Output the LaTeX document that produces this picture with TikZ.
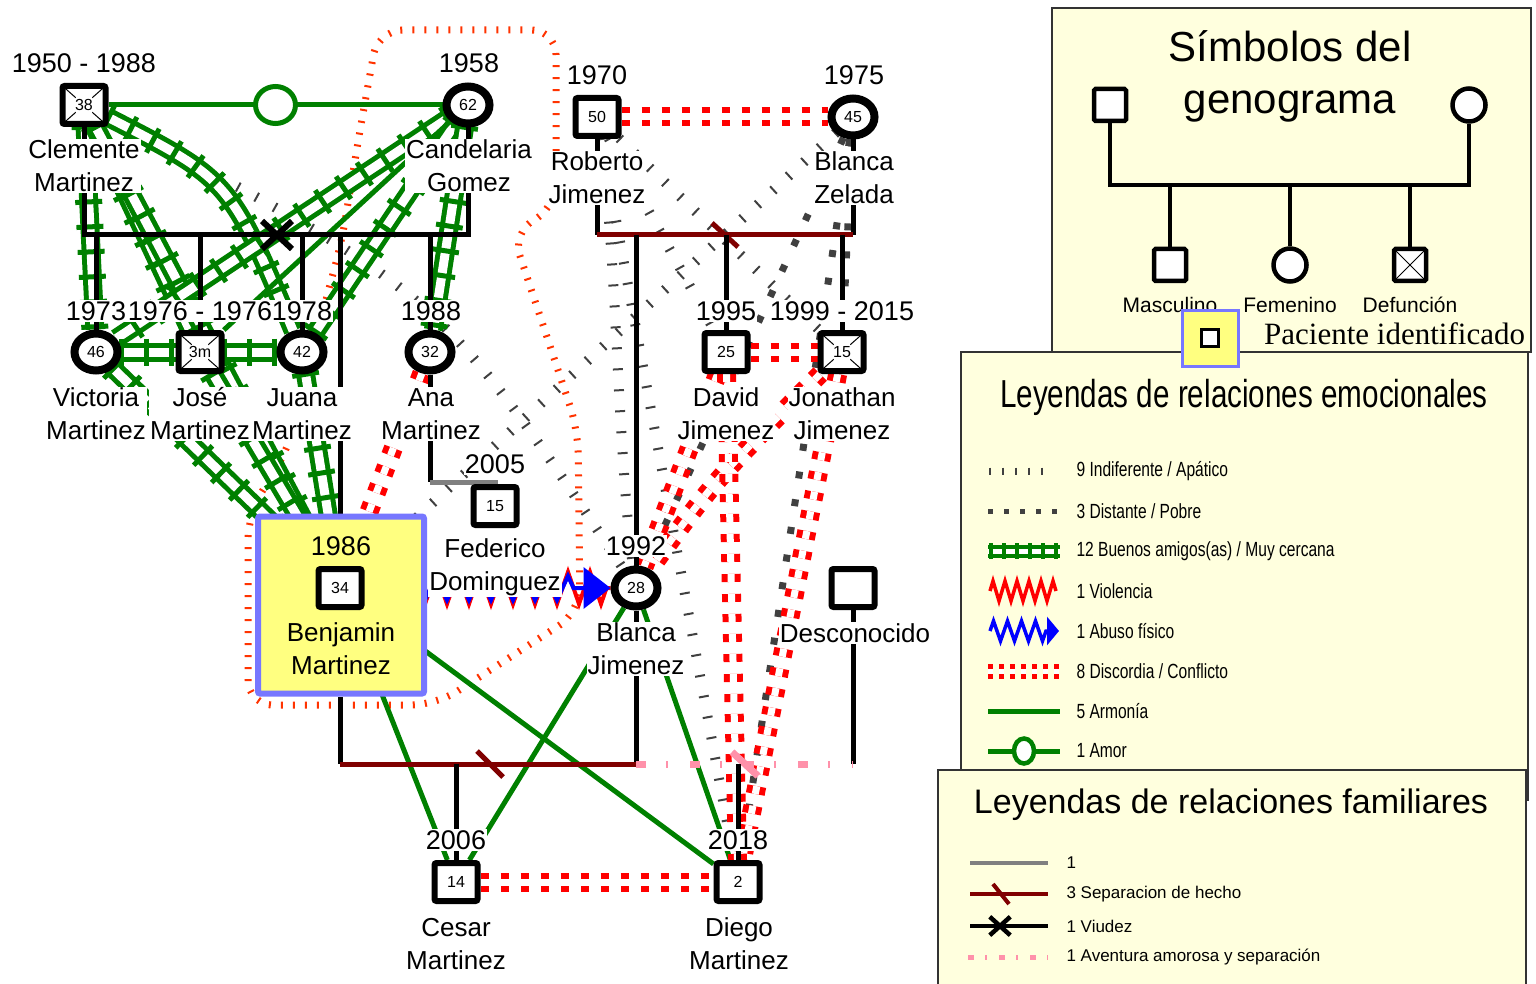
\documentclass[tikz,border=0pt]{standalone}
\usepackage{fontspec}
\setmainfont{Liberation Sans}
\newfontfamily\narrowfont[FakeStretch=0.76]{Liberation Sans}
\newfontfamily\timesfont{Liberation Serif}
\usetikzlibrary{shapes.geometric,shapes.misc,decorations.pathmorphing,decorations.pathreplacing,arrows.meta}

\definecolor{relgreen}{RGB}{0,128,0}
\definecolor{sepred}{RGB}{128,0,0}
\definecolor{affairpink}{RGB}{255,145,170}
\definecolor{tickgray}{RGB}{64,64,64}
\definecolor{focusorange}{RGB}{255,51,0}
\definecolor{legendbg}{RGB}{255,255,222}
\definecolor{patientblue}{RGB}{119,119,255}
\definecolor{patientyellow}{RGB}{255,255,128}

\pgfdeclarelayer{rel}
\pgfdeclarelayer{fam}
\pgfsetlayers{rel,fam,main}

\tikzset{
  male/.style={draw, line width=6pt, rounded corners=2pt, fill=white, minimum width=43pt, minimum height=38pt, inner sep=0pt, font=\fontsize{16}{16}\selectfont},
  female/.style={draw, ellipse, line width=8pt, fill=white, minimum width=43pt, minimum height=37pt, inner sep=0pt, font=\fontsize{16}{16}\selectfont},
  dead/.style={path picture={
      \draw[line width=1pt] (path picture bounding box.south west) -- (path picture bounding box.north east)
                            (path picture bounding box.north west) -- (path picture bounding box.south east);
      \fill[white] (path picture bounding box.center) circle (11pt);}},
  patientbox/.style={draw=patientblue, line width=6pt, rounded corners=2pt, fill=patientyellow, minimum width=166pt, minimum height=177pt},
  year/.style={font=\fontsize{27}{27}\selectfont, fill=white, inner sep=1pt},
  namelabel/.style={font=\fontsize{26}{33}\selectfont, align=center, fill=white, inner sep=1pt},
  famline/.style={draw=black, line width=5pt},
  sepline/.style={draw=sepred, line width=5pt},
  graylink/.style={draw=gray, line width=5pt},
  affair/.style={draw=affairpink, line width=7pt, dash pattern=on 10pt off 20pt on 2pt off 22pt},
  affairmark/.style={draw=affairpink, line width=7pt},
  widow/.style={draw, cross out, line width=6pt, minimum width=24pt, minimum height=22pt},
  indif/.style={draw=tickgray, line width=2pt, decorate, decoration={ticks, segment length=21pt, amplitude=5pt}},
  distante/.style={draw=tickgray, line width=7pt, dash pattern=on 7pt off 21pt},
  amigorail/.style={draw=relgreen, line width=5pt, double=white, double distance=9pt},
  amigotie/.style={draw=relgreen, line width=5pt, decorate, decoration={ticks, segment length=25pt, amplitude=13.5pt}},
  armonia/.style={draw=relgreen, line width=5pt},
  amor/.style={draw=relgreen, line width=5pt},
  amorknot/.style={draw=relgreen, ellipse, line width=5pt, fill=white, minimum width=40pt, minimum height=37pt},
  discordia/.style={draw=red, line width=6pt, double=white, double distance=7pt, dash pattern=on 8pt off 12pt},
  violencia/.style={draw=red, line width=4pt, decorate, decoration={zigzag, amplitude=16pt, segment length=22pt}},
  abuso/.style={draw=blue, line width=4pt, decorate, decoration={zigzag, amplitude=12pt, segment length=22pt, post=lineto, post length=30pt}, -{Triangle[length=27pt, width=41pt]}},
  focusline/.style={draw=focusorange, line width=2pt, decorate, decoration={ticks, segment length=12pt, amplitude=3.5pt}},
  legendbox/.style={draw=black!80, line width=1.5pt, fill=legendbg},
  legtitle/.style={font=\fontsize{42}{52}\selectfont, align=center},
  legmale/.style={draw, line width=4.5pt, rounded corners=1.5pt, fill=white, minimum size=32pt},
  legfemale/.style={draw, circle, line width=4.5pt, fill=white, minimum size=33pt},
  legdead/.style={path picture={
      \draw[line width=1pt] (path picture bounding box.south west) -- (path picture bounding box.north east)
                            (path picture bounding box.north west) -- (path picture bounding box.south east);}},
  legline/.style={draw=black, line width=4.5pt},
  legsmall/.style={font=\fontsize{21}{21}\selectfont},
  emotext/.style={font=\narrowfont\fontsize{20.5}{21}\selectfont, anchor=west},
  famtext/.style={font=\fontsize{17}{17}\selectfont, anchor=west},
}

\newcommand\amigos[2]{%
  \draw[amigorail] (#1) -- (#2);
  \draw[amigotie] (#1) -- (#2);}

\begin{document}
\begin{tikzpicture}[x=1pt,y=-1pt]
  \useasboundingbox (0,0) rectangle (1536,984);

  % paciente identificado
  \node[patientbox] (pbox) at (341,605) {};

  % personas
  \node[male,dead] (clem) at (84,105) {38};
  \node[female] (cand) at (468,105) {62};
  \node[male] (rob) at (597,117) {50};
  \node[female] (zel) at (853,117) {45};
  \node[female] (vic) at (96,352) {46};
  \node[male,dead] (jose) at (200,352) {3m};
  \node[female] (juana) at (302,352) {42};
  \node[female] (ana) at (430,352) {32};
  \node[male] (david) at (726,352) {25};
  \node[male,dead] (jon) at (842,352) {15};
  \node[male] (fede) at (495,506) {15};
  \node[male] (benj) at (340,588) {34};
  \node[female] (blancaj) at (636,588) {28};
  \node[male] (desc) at (853,588) {};
  \node[male] (cesar) at (456,882) {14};
  \node[male] (diego) at (738,882) {2};

  % anos
  \node[year] (yclem) at (84,63) {1950 - 1988};
  \node[year] (ycand) at (469,63) {1958};
  \node[year] (yrob) at (597,75) {1970};
  \node[year] (yzel) at (854,75) {1975};
  \node[year] (yvic) at (96,311) {1973};
  \node[year] (yjose) at (200,311) {1976 - 1976};
  \node[year] (yjuana) at (302,311) {1978};
  \node[year] (yana) at (431,311) {1988};
  \node[year] (ydavid) at (726,311) {1995};
  \node[year] (yjon) at (842,311) {1999 - 2015};
  \node[year] (yfede) at (495,464) {2005};
  \node[year, fill=none] (ybenj) at (341,546) {1986};
  \node[year] (yblancaj) at (636,546) {1992};
  \node[year] (ycesar) at (456,840) {2006};
  \node[year] (ydiego) at (738,840) {2018};

  % nombres
  \node[namelabel] (nclem) at (84,166) {Clemente\\Martinez};
  \node[namelabel] (ncand) at (469,166) {Candelaria\\Gomez};
  \node[namelabel] (nrob) at (597,178) {Roberto\\Jimenez};
  \node[namelabel] (nzel) at (854,178) {Blanca\\Zelada};
  \node[namelabel] (nvic) at (96,414) {Victoria\\Martinez};
  \node[namelabel] (njose) at (200,414) {José\\Martinez};
  \node[namelabel] (njuana) at (302,414) {Juana\\Martinez};
  \node[namelabel] (nana) at (431,414) {Ana\\Martinez};
  \node[namelabel] (ndavid) at (726,414) {David\\Jimenez};
  \node[namelabel] (njon) at (842,414) {Jonathan\\Jimenez};
  \node[namelabel] (nfede) at (495,567) {Federico\\Dominguez};
  \node[namelabel, fill=none] (nbenj) at (341,649) {Benjamin\\Martinez};
  \node[namelabel] (nblancaj) at (636,649) {Blanca\\Jimenez};
  \node[namelabel] (ndesc) at (855,633) {Desconocido};
  \node[namelabel] (ncesar) at (456,944) {Cesar\\Martinez};
  \node[namelabel] (ndiego) at (739,944) {Diego\\Martinez};

  % lineas familiares
  \begin{pgfonlayer}{fam}
    \coordinate (c1l) at (84,235);
    \coordinate (c1r) at (468,235);
    \coordinate (c1x) at (277,235);
    \draw[famline] (clem) -- (c1l) -- (c1r) -- (cand);
    \node[widow] (viudez) at (c1x) {};
    \draw[famline] (vic |- c1l) -- (vic);
    \draw[famline] (jose |- c1l) -- (jose);
    \draw[famline] (juana |- c1l) -- (juana);
    \draw[famline] (ana |- c1l) -- (ana);
    \draw[famline] (benj |- c1l) -- (pbox.north -| benj);

    \coordinate (c2l) at (597,235);
    \coordinate (c2r) at (853,235);
    \coordinate (c2s) at (725,235);
    \draw[famline] (rob) -- (c2l);
    \draw[famline] (zel) -- (c2r);
    \draw[sepline] (c2l) -- (c2r);
    \draw[sepline] ([shift={(-13,-12)}]c2s) -- ([shift={(13,12)}]c2s);
    \draw[famline] (blancaj |- c2l) -- (blancaj);
    \draw[famline] (david |- c2l) -- (david);
    \draw[famline] (jon |- c2l) -- (jon);

    \coordinate (c3a) at (430,482);
    \coordinate (c3f) at (495,482);
    \draw[famline] (ana) -- (c3a);
    \draw[graylink] (c3a) -- (c3f) -- (fede);

    \coordinate (c4l) at (340,764);
    \coordinate (c4r) at (636,764);
    \coordinate (c4s) at (490,764);
    \draw[famline] (pbox.south -| benj) -- (c4l);
    \draw[famline] (blancaj) -- (c4r);
    \draw[sepline] (c4l) -- (c4r);
    \draw[sepline] ([shift={(-13,-13)}]c4s) -- ([shift={(13,13)}]c4s);
    \draw[famline] (cesar |- c4l) -- (cesar);

    \coordinate (c5r) at (853,764);
    \coordinate (c5s) at (745,764);
    \draw[famline] (desc) -- (c5r);
    \draw[affair] (c4r) -- (c5r);
    \draw[affairmark] ([shift={(-13,-12)}]c5s) -- ([shift={(13,12)}]c5s);
    \draw[famline] (diego |- c4l) -- (diego);
  \end{pgfonlayer}

  % relaciones emocionales
  \begin{pgfonlayer}{rel}
    \draw[focusline, rounded corners=25pt] (248,705) -- (248,515) -- (290,445) -- (318,330) -- (342,240)
      -- (360,130) -- (378,30) -- (556,30) -- (556,208) -- (512,232) -- (578,430) -- (580,612)
      -- (436,705) -- cycle;

    \draw[indif] (clem) .. controls (440,293) .. (blancaj);
    \draw[indif] (rob) .. controls (617,250) and (617,450) .. (blancaj);
    \draw[indif] (rob) -- (diego);
    \draw[indif] (rob) -- (jon);
    \draw[indif] (rob) -- (david);
    \draw[indif] (zel) -- (benj);

    \draw[distante] (zel) -- (diego);
    \draw[distante] (zel) -- (blancaj);
    \draw[distante] (zel) -- (jon);

    \amigos{clem}{vic}
    \amigos{clem}{jose}
    \draw[amigorail] (clem) .. controls (230,180) .. (juana);
    \draw[amigotie] (clem) .. controls (230,180) .. (juana);
    \amigos{clem}{benj}
    \amigos{cand}{vic}
    \amigos{cand}{juana}
    \amigos{cand}{ana}
    \amigos{vic}{jose}
    \amigos{jose}{juana}
    \amigos{vic}{benj}
    \amigos{jose}{benj}
    \amigos{juana}{benj}

    \draw[armonia] (cand) -- (jose);
    \draw[armonia] (benj) -- (cesar);
    \draw[armonia] (benj) -- (diego);
    \draw[armonia] (blancaj) -- (cesar);
    \draw[armonia] (blancaj) -- (diego);

    \draw[amor] (clem) -- node[amorknot] (knot) {} (cand);

    \draw[discordia] (rob) -- (zel);
    \draw[discordia] (david) -- (jon);
    \draw[discordia] (cesar) -- (diego);
    \draw[discordia] (ana) -- (benj);
    \draw[discordia] (david) -- (blancaj);
    \draw[discordia] (jon) .. controls (715,480) .. (blancaj);
    \draw[discordia] (david) -- (diego);
    \draw[discordia] (jon) -- (diego);

    \draw[violencia] (benj) -- (blancaj);
    \draw[abuso] (benj) -- (blancaj);
  \end{pgfonlayer}

  % simbolos del genograma
  \draw[legendbox] (1052,8) rectangle (1531,352);
  \node[legtitle] (symtitle) at (1290,76) {Símbolos del\\genograma};
  \node[legmale] (lgfather) at (1110,105) {};
  \node[legfemale] (lgmother) at (1469,105) {};
  \coordinate (lgl) at (1110,185);
  \coordinate (lgr) at (1469,185);
  \draw[legline] (lgfather) -- (lgl) -- (lgr) -- (lgmother);
  \node[legmale] (lgmasc) at (1170,265) {};
  \node[legfemale] (lgfem) at (1290,265) {};
  \node[legmale,legdead] (lgdef) at (1410,265) {};
  \draw[legline] (lgmasc |- lgl) -- (lgmasc);
  \draw[legline] (lgfem |- lgl) -- (lgfem);
  \draw[legline] (lgdef |- lgl) -- (lgdef);
  \node[legsmall] (tmasc) at (1170,305) {Masculino};
  \node[legsmall] (tfem) at (1290,305) {Femenino};
  \node[legsmall] (tdef) at (1410,305) {Defunción};

  % relaciones emocionales
  \draw[legendbox] (961,352) rectangle (1528,800);
  \node[draw=patientblue, line width=3pt, fill=patientyellow, minimum size=56pt] (lgpatient) at (1210,338) {};
  \node[draw, line width=3pt, fill=white, minimum size=17pt] (lgpatsq) at (1210,338) {};
  \node[font=\timesfont\fontsize{31}{31}\selectfont, anchor=west, inner sep=0pt] (tpatient) at (1264,334) {Paciente identificado};
  \node[font=\narrowfont\fontsize{39}{39}\selectfont] (emotitle) at (1244,397) {Leyendas de relaciones emocionales};
  \draw[indif, line width=1.5pt, decoration={ticks, segment length=13pt, amplitude=3.5pt}] (990,471) -- (1055,471);
  \node[emotext] (tindif) at (1073,471) {9 Indiferente / Apático};
  \draw[distante, line width=5pt, dash pattern=on 5pt off 11pt] (988,511) -- (1062,511);
  \node[emotext] (tdist) at (1073,511) {3 Distante / Pobre};
  \draw[amigorail, line width=4pt, double distance=5pt] (988,551) -- (1060,551);
  \draw[amigotie, line width=4pt, decoration={ticks, segment length=13pt, amplitude=8pt}] (991,551) -- (1057,551);
  \node[emotext] (tamigos) at (1073,551) {12 Buenos amigos(as) / Muy cercana};
  \draw[violencia, line width=3.5pt, decoration={zigzag, amplitude=10pt, segment length=12pt}] (990,591) -- (1056,591);
  \node[emotext] (tviol) at (1073,591) {1 Violencia};
  \draw[abuso, line width=3.5pt, decoration={zigzag, amplitude=10pt, segment length=14pt, post=lineto, post length=12pt}, -{Triangle[length=12pt, width=28pt]}] (990,631) -- (1059,631);
  \node[emotext] (tabuso) at (1073,631) {1 Abuso físico};
  \draw[discordia, line width=5pt, double distance=5pt, dash pattern=on 5pt off 6pt] (988,671) -- (1062,671);
  \node[emotext] (tdisc) at (1073,671) {8 Discordia / Conflicto};
  \draw[armonia] (988,711) -- (1060,711);
  \node[emotext] (tarm) at (1073,711) {5 Armonía};
  \draw[amor] (988,751) -- node[amorknot, minimum width=20pt, minimum height=25pt, line width=4.5pt] (lgknot) {} (1060,751);
  \node[emotext] (tamor) at (1073,751) {1 Amor};

  % relaciones familiares
  \draw[legendbox] (938,770) rectangle (1526,992);
  \node[font=\fontsize{34}{34}\selectfont] (famtitle) at (1231,805) {Leyendas de relaciones familiares};
  \draw[graylink, line width=4pt] (970,863) -- (1048,863);
  \node[famtext] (tgray) at (1063,863) {1};
  \draw[sepline, line width=4pt] (970,894) -- (1048,894);
  \draw[sepline, line width=4pt] (993,884) -- (1009,904);
  \node[famtext] (tsep) at (1063,894) {3 Separacion de hecho};
  \draw[famline, line width=4pt] (970,926) -- (1048,926);
  \node[widow, line width=4.5pt, minimum width=16pt, minimum height=14pt] (lgviudez) at (1000,926) {};
  \node[famtext] (tviudez) at (1063,926) {1 Viudez};
  \draw[affair, line width=5pt, dash pattern=on 6pt off 11pt on 2pt off 12pt] (968,957) -- (1048,957);
  \node[famtext] (taffair) at (1063,957) {1 Aventura amorosa y separación};
\end{tikzpicture}
\end{document}
